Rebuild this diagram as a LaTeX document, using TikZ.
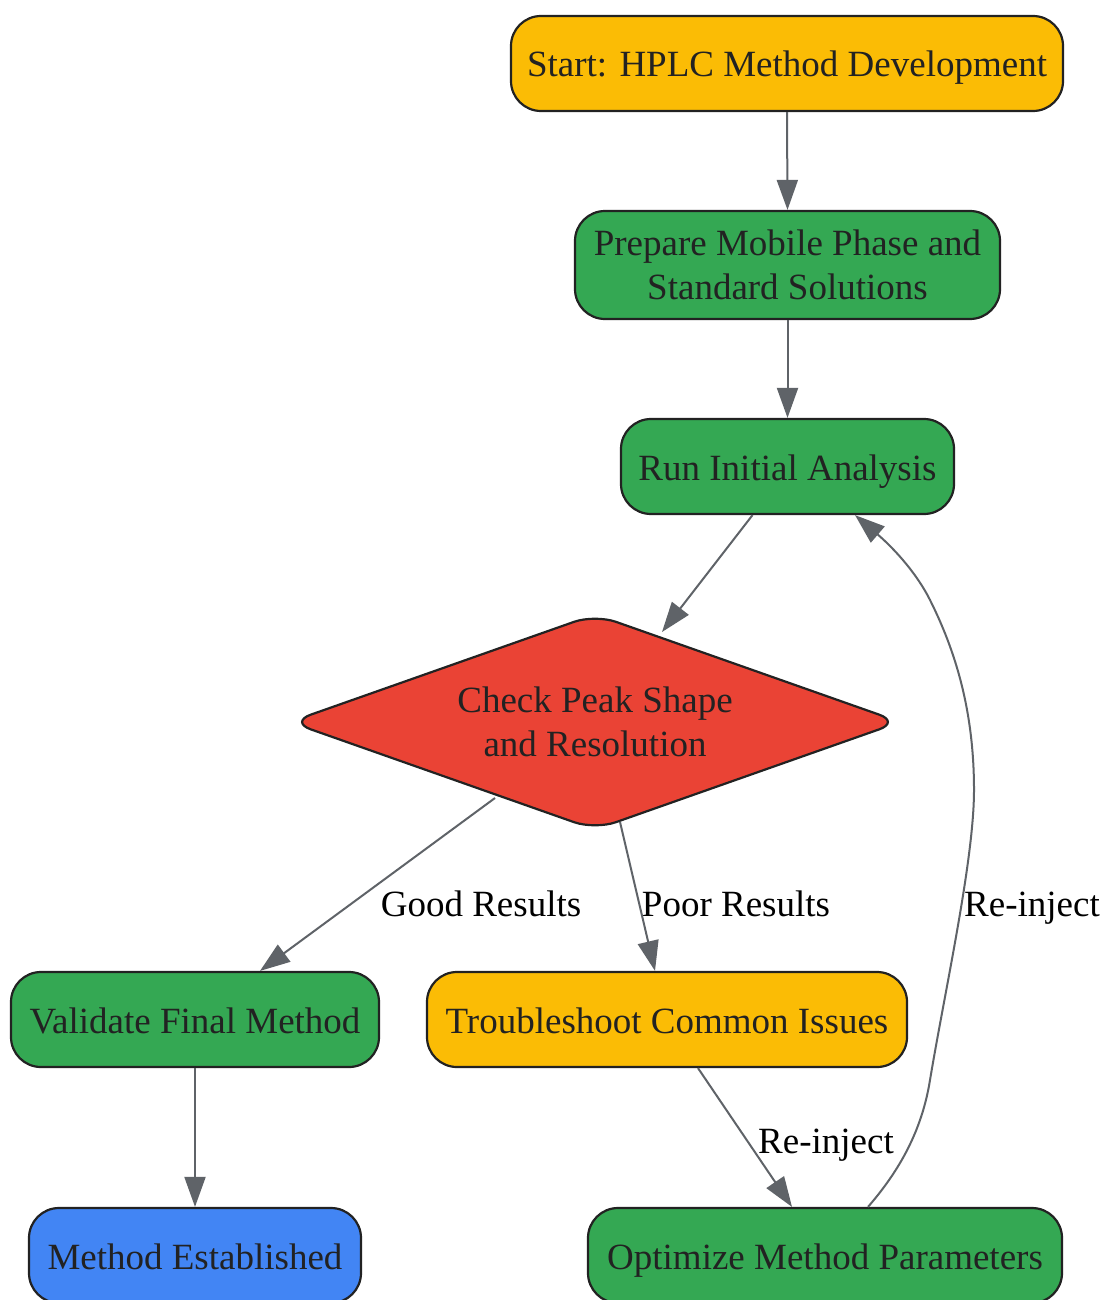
\documentclass[tikz,border=0pt]{standalone}
\usepackage{fontspec}
\setmainfont{Liberation Serif}
\usetikzlibrary{arrows.meta,shapes.geometric}
\definecolor{cyellow}{HTML}{FBBC05}
\definecolor{cgreen}{HTML}{34A853}
\definecolor{cred}{HTML}{EA4335}
\definecolor{cblue}{HTML}{4285F4}
\definecolor{cedge}{HTML}{5F6368}
\definecolor{cborder}{HTML}{222222}
\tikzset{
  box/.style={draw=cborder, line width=2.2pt, rounded corners=30pt, align=center,
    text=cborder, inner sep=0pt, minimum height=95pt,
    font=\fontsize{37}{44}\selectfont},
  oneline/.style={text height=30pt, text depth=3pt},
  decision/.style={diamond, aspect=2.86, draw=cborder, line width=2.2pt, rounded corners=22pt,
    align=center, text=cborder, inner sep=0pt, minimum width=611pt, minimum height=216pt,
    font=\fontsize{37}{44}\selectfont},
  conn/.style={draw=cedge, line width=2pt, -{Triangle[length=30pt,width=21pt]}},
  elabel/.style={font=\fontsize{37}{44}\selectfont, text=black, inner sep=0pt}
}
\begin{document}
\begin{tikzpicture}[x=1pt,y=-1pt]
\useasboundingbox (0,0) rectangle (1103,1300);
\node[box, oneline, fill=cyellow, minimum width=552pt] (start) at (787,63.5) {Start: HPLC Method Development};
\node[box, fill=cgreen, minimum width=425pt, minimum height=108pt] (prep) at (787.5,265) {Prepare Mobile Phase and\\Standard Solutions};
\node[box, oneline, fill=cgreen, minimum width=333pt] (run) at (787.5,466.5) {Run Initial Analysis};
\node[decision, fill=cred] (dia) at (595,722) {Check Peak Shape\\and Resolution};
\node[box, oneline, fill=cgreen, minimum width=368pt] (val) at (195,1019.5) {Validate Final Method};
\node[box, oneline, fill=cyellow, minimum width=480pt] (trb) at (667,1019.5) {Troubleshoot Common Issues};
\node[box, oneline, fill=cblue, minimum width=332pt] (est) at (195,1255.5) {Method Established};
\node[box, oneline, fill=cgreen, minimum width=474pt] (opt) at (825,1255.5) {Optimize Method Parameters};

\draw[conn] (start.south) -- (prep.north);
\draw[conn] (prep.south) -- (run.north);
\draw[conn] ([xshift=-35pt]run.south) -- ([xshift=67pt,yshift=90pt]dia.center);
\draw[conn] ([xshift=-100pt,yshift=-76pt]dia.center) -- ([xshift=65pt]val.north);
\draw[conn] ([xshift=25pt,yshift=-100pt]dia.center) -- ([xshift=-12pt]trb.north);
\draw[conn] ([xshift=31pt]trb.south) -- ([xshift=-33pt]opt.north);
\draw[conn] (val.south) -- (est.north);
\draw[conn] ([xshift=43pt]opt.north)
  .. controls (900,1170) and (922,1130) .. (930,1080)
  .. controls (945,990) and (974,860) .. (974,790)
  .. controls (974,710) and (955,650) .. (930,600)
  .. controls (915,570) and (890,545) .. ([xshift=67.5pt]run.south);

\node[elabel, oneline] (lgood) at (481,903) {Good Results};
\node[elabel, oneline] (lpoor) at (736,903) {Poor Results};
\node[elabel, oneline, anchor=west] (lre1) at (964,903) {Re-inject};
\node[elabel, oneline] (lre2) at (826,1140) {Re-inject};
\end{tikzpicture}
\end{document}
